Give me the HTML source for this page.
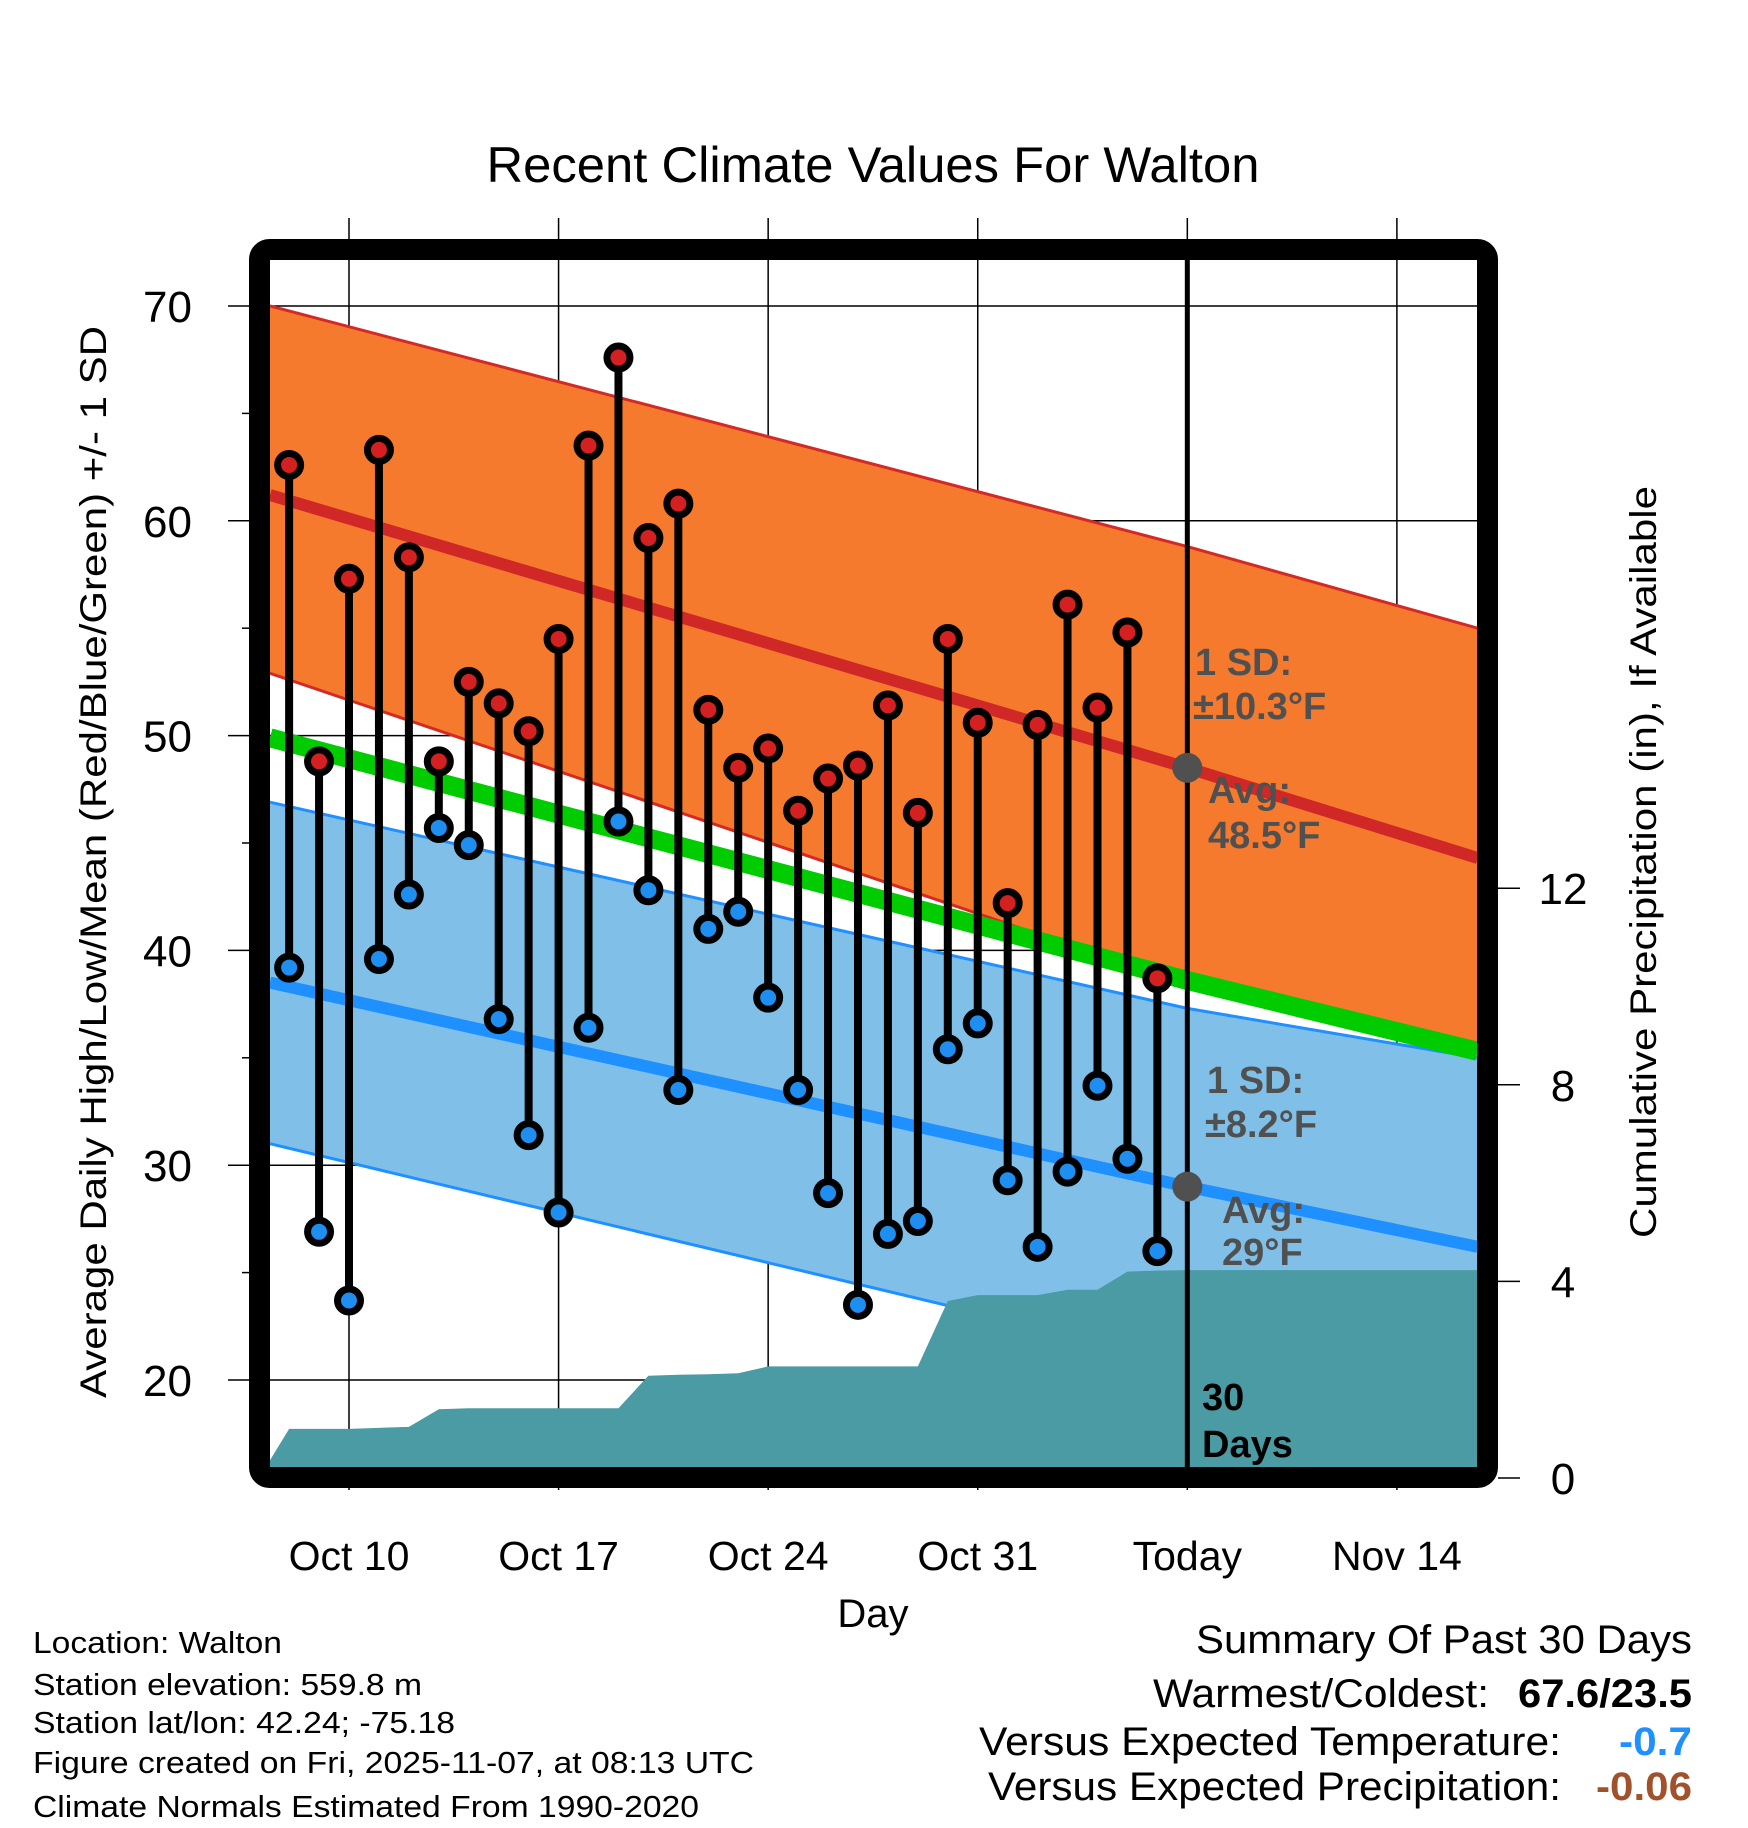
<!DOCTYPE html>
<html><head><meta charset="utf-8"><title>Recent Climate Values For Walton</title>
<style>html,body{margin:0;padding:0;background:#fff}svg{display:block}text{font-family:"Liberation Sans",Arial,sans-serif}</style></head>
<body>
<svg id="chart" width="1748" height="1828" viewBox="0 0 1748 1828" xmlns="http://www.w3.org/2000/svg">
<defs><clipPath id="plotClip"><rect x="270" y="260" width="1208" height="1208"/></clipPath></defs>
<text x="873" y="182" font-size="50" text-anchor="middle" textLength="773" lengthAdjust="spacingAndGlyphs">Recent Climate Values For Walton</text>
<g id="grid"></g>
<g id="plot" clip-path="url(#plotClip)"></g>
<g id="marks"></g>
<rect x="259.5" y="249.5" width="1228" height="1228" rx="10" fill="none" stroke="#000" stroke-width="21"/>
<g id="axes"></g>
<text transform="translate(106,862) rotate(-90)" font-size="37" text-anchor="middle" textLength="1072" lengthAdjust="spacingAndGlyphs">Average Daily High/Low/Mean (Red/Blue/Green) +/- 1 SD</text>
<text transform="translate(1656,862) rotate(-90)" font-size="37" text-anchor="middle" textLength="752" lengthAdjust="spacingAndGlyphs">Cumulative Precipitation (in), If Available</text>
<text x="873" y="1627" font-size="40" text-anchor="middle">Day</text>
<g font-size="31">
<text x="33" y="1653" textLength="249" lengthAdjust="spacingAndGlyphs">Location: Walton</text>
<text x="33" y="1695" textLength="389" lengthAdjust="spacingAndGlyphs">Station elevation: 559.8 m</text>
<text x="33" y="1733" textLength="422" lengthAdjust="spacingAndGlyphs">Station lat/lon: 42.24; -75.18</text>
<text x="33" y="1773" textLength="721" lengthAdjust="spacingAndGlyphs">Figure created on Fri, 2025-11-07, at 08:13 UTC</text>
<text x="33" y="1817" textLength="666" lengthAdjust="spacingAndGlyphs">Climate Normals Estimated From 1990-2020</text>
</g>
<g font-size="40">
<text x="1196" y="1653" textLength="496" lengthAdjust="spacingAndGlyphs">Summary Of Past 30 Days</text>
<text x="1153" y="1707" textLength="336" lengthAdjust="spacingAndGlyphs">Warmest/Coldest:</text>
<text x="1518" y="1707" font-weight="bold" textLength="174" lengthAdjust="spacingAndGlyphs">67.6/23.5</text>
<text x="979" y="1755" textLength="582" lengthAdjust="spacingAndGlyphs">Versus Expected Temperature:</text>
<text x="1619" y="1755" font-weight="bold" fill="#1e90ff" textLength="73" lengthAdjust="spacingAndGlyphs">-0.7</text>
<text x="988" y="1800" textLength="573" lengthAdjust="spacingAndGlyphs">Versus Expected Precipitation:</text>
<text x="1596" y="1800" font-weight="bold" fill="#a0522d" textLength="96" lengthAdjust="spacingAndGlyphs">-0.06</text>
</g>
</svg>
<script>
// days are relative to Oct 10 (0 = Oct 10)
const obsDays = [-2,-1,0,1,2,3,4,5,6,7,8,9,10,11,12,13,14,15,16,17,18,19,20,21,22,23,24,25,26,27];
const highs = [62.6,48.8,57.3,63.3,58.3,48.8,52.5,51.5,50.2,54.5,63.5,67.6,59.2,60.8,51.2,48.5,49.4,46.5,48.0,48.6,51.4,46.4,54.5,50.6,42.2,50.5,56.1,51.3,54.8,38.7];
const lows = [39.2,26.9,23.7,39.6,42.6,45.7,44.9,36.8,31.4,27.8,36.4,46.0,42.8,33.5,41.0,41.8,37.8,33.5,28.7,23.5,26.8,27.4,35.4,36.6,29.3,26.2,29.7,33.7,30.3,26.0];
const precipDays = [-3,-2,-1,0,1,2,3,4,5,6,7,8,9,10,11,12,13,14,15,16,17,18,19,20,21,22,23,24,25,26,27,28,38];
const precipCum = [0,1.0,1.0,1.0,1.02,1.04,1.40,1.42,1.42,1.42,1.42,1.42,1.42,2.08,2.10,2.11,2.13,2.27,2.27,2.27,2.27,2.27,2.27,3.60,3.72,3.72,3.72,3.83,3.83,4.20,4.22,4.23,4.23];
const normDays = [-2.64,28,37.7];
const highUpper = [70.0,58.8,55.0];
const highMean = [61.2,48.5,44.3];
const highLower = [52.9,38.4,35.4];
const meanLine = [49.9,38.6,35.3];
const lowUpper = [46.9,37.3,35.0];
const lowMean = [38.5,29.0,26.2];
const lowLower = [31.0,20.8,17.9];
const tempTicks = [20,30,40,50,60,70];
const tempMinor = [25,35,45,55,65];
const precipTicks = [0,4,8,12];
const xTickDays = [0,7,14,21,28,35];
const xTickLabels = ["Oct 10","Oct 17","Oct 24","Oct 31","Today","Nov 14"];
const todayDay = 28;

const NS = "http://www.w3.org/2000/svg";
const X = d => 349 + d * 29.94;
const YT = t => 306 + (70 - t) * 21.48;
const YP = p => 1478 - p * 49.15;
function mk(tag, attrs, parent) { const e = document.createElementNS(NS, tag); for (const k in attrs) e.setAttribute(k, attrs[k]); parent.appendChild(e); return e; }
const grid = document.getElementById('grid'), plot = document.getElementById('plot'), marks = document.getElementById('marks'), axes = document.getElementById('axes');

function band(up, lo, fill, edge, name) {
  let pts = normDays.map((d,i)=>X(d)+','+YT(up[i]));
  pts = pts.concat(normDays.slice().reverse().map((d,j)=>X(d)+','+YT(lo[normDays.length-1-j])));
  const p = mk('polygon', {points: pts.join(' '), fill: fill}, plot);
  
  
  [up, lo].forEach(arr => {
    const l = mk('polyline', {points: normDays.map((d,i)=>X(d)+','+YT(arr[i])).join(' '), fill:'none', stroke: edge, 'stroke-width': 3}, plot);
    
    
  });
}
function line(arr, color, w, name) {
  const l = mk('polyline', {points: normDays.map((d,i)=>X(d)+','+YT(arr[i])).join(' '), fill:'none', stroke: color, 'stroke-width': w}, plot);
  
  
}
band(highUpper, highLower, '#f57a2e', '#d42a26', 'high-sd-band');
band(lowUpper, lowLower, '#80c0e8', '#1e90ff', 'low-sd-band');
line(highMean, '#d02727', 12, 'normal-high-line');
line(lowMean, '#1e90ff', 12, 'normal-low-line');
line(meanLine, '#00cc00', 19, 'normal-mean-line');

// precipitation area
{
  let pts = precipDays.map((d,i)=>X(d)+','+YP(precipCum[i]));
  pts.push(X(precipDays[precipDays.length-1])+','+YP(0));
  pts.push(X(precipDays[0])+','+YP(0));
  const p = mk('polygon', {points: pts.join(' '), fill:'#4a9ba3'}, plot);
  
  
}

// grid
tempTicks.forEach(t => {
  const g = mk('line', {x1: 228, x2: 1478, y1: YT(t), y2: YT(t), stroke:'#000', 'stroke-width': 1.5}, grid);
  
  
  const tx = mk('text', {x: 192, y: YT(t) + 16, 'font-size': 44, 'text-anchor': 'end'}, axes);
  tx.textContent = t;
  
  
});
tempMinor.forEach(t => {
  const g = mk('line', {x1: 242, x2: 250, y1: YT(t), y2: YT(t), stroke:'#000', 'stroke-width': 1.5}, axes);
  
  
});
xTickDays.forEach((d,i) => {
  const g = mk('line', {x1: X(d), x2: X(d), y1: 218, y2: 1490, stroke:'#000', 'stroke-width': 1.5}, grid);
  
  
  const tx = mk('text', {x: X(d), y: 1570, 'font-size': 41, 'text-anchor': 'middle'}, axes);
  tx.textContent = xTickLabels[i];
  
  
});
precipTicks.forEach(p => {
  const g = mk('line', {x1: 1498, x2: 1520, y1: YP(p), y2: YP(p), stroke:'#000', 'stroke-width': 1.5}, axes);
  
  
  const tx = mk('text', {x: 1563, y: YP(p) + 16, 'font-size': 44, 'text-anchor': 'middle'}, axes);
  tx.textContent = p;
  
  
});

// today line
{
  const t = mk('line', {x1: X(todayDay), x2: X(todayDay), y1: 260, y2: 1468, stroke:'#000', 'stroke-width': 5}, marks);
  
  
}

// observations
obsDays.forEach((d,i) => {
  const s = mk('line', {x1: X(d), x2: X(d), y1: YT(highs[i]), y2: YT(lows[i]), stroke:'#000', 'stroke-width': 8}, marks);
  
  
});
obsDays.forEach((d,i) => {
  const h = mk('circle', {cx: X(d), cy: YT(highs[i]), r: 11.5, fill:'#d42020', stroke:'#000', 'stroke-width': 7}, marks);
  
  
  const l = mk('circle', {cx: X(d), cy: YT(lows[i]), r: 11.5, fill:'#1e8ff0', stroke:'#000', 'stroke-width': 7}, marks);
  
  
});

// today normal dots
[[highMean[1],'today-high-normal-dot'],[lowMean[1],'today-low-normal-dot']].forEach(a => {
  const c = mk('circle', {cx: X(todayDay), cy: YT(a[0]), r: 15, fill:'#505050'}, marks);
  
  
});

// annotations
function label(x, y, txt, name, color) {
  const t = mk('text', {x: x, y: y, 'font-size': 38, 'font-weight': 'bold', fill: color}, marks);
  t.textContent = txt;
  
  
}
label(1195, 675, '1 SD:', 'high-sd-label', '#505050');
label(1193, 719, '\u00b110.3\u00b0F', 'high-sd-value', '#505050');
label(1208, 803, 'Avg:', 'high-avg-label', '#505050');
label(1208, 848, '48.5\u00b0F', 'high-avg-value', '#505050');
label(1207, 1093, '1 SD:', 'low-sd-label', '#505050');
label(1205, 1137, '\u00b18.2\u00b0F', 'low-sd-value', '#505050');
label(1222, 1223, 'Avg:', 'low-avg-label', '#505050');
label(1222, 1265, '29\u00b0F', 'low-avg-value', '#505050');
label(1202, 1410, '30', 'days-count-label', '#000');
label(1202, 1457, 'Days', 'days-word-label', '#000');
</script>
</body></html>
